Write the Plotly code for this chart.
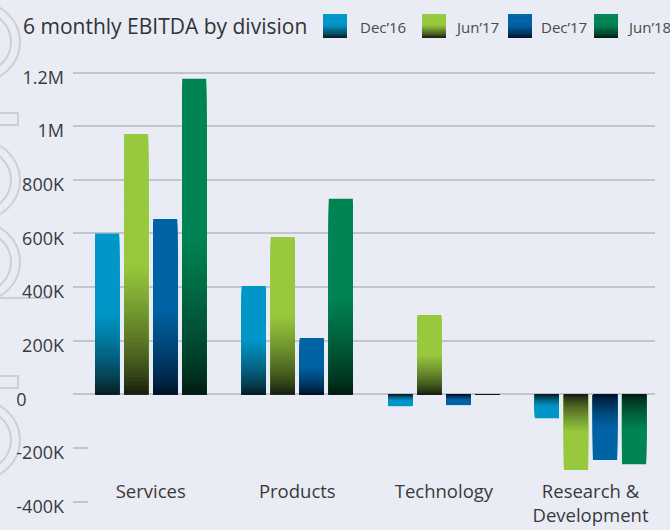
import plotly.graph_objects as go

# ---------------- data ----------------
categories = ["Services", "Products", "Technology", "Research &<br>Development"]
periods = ["Dec\u201916", "Jun\u201917", "Dec\u201917", "Jun\u201918"]
dec16 = [600000, 404000, -44000, -89000]
jun17 = [971000, 587000, 296000, -282000]
dec17 = [654000, 210000, -40000, -245000]
jun18 = [1177000, 729000, -2000, -260000]

pos_tick_vals = [0, 200000, 400000, 600000, 800000, 1000000, 1200000]
pos_tick_text = ["0" + "\u00a0" * 8, "200K", "400K", "600K", "800K", "1M", "1.2M"]
neg_tick_vals = [-200000, -400000]
neg_tick_text = ["-200K", "-400K"]

# ---------------- style ----------------
series = [dec16, jun17, dec17, jun18]
full_cols = [(0, 150, 200), (152, 200, 61), (0, 99, 165), (0, 132, 84)]
dark_cols = [(8, 22, 24), (16, 22, 12), (0, 14, 34), (0, 24, 14)]
BG = "#E9ECF5"
GRID = "#C3C5CC"
TXT = "#3A3A3A"
FONT = "Open Sans"

W, H = 670, 530
ML, MR, MT, MB = 73, 15, 50, 20
PW, PH = W - ML - MR, H - MT - MB
YR = [-431000, 1284000]


def px2x(px):
    return (px - ML) / PW


def py2y(py):
    return (H - MB - py) / PH


def grad(full, dark, f, thr=0.5, pw=0.7):
    if f >= thr:
        return "rgb(%d,%d,%d)" % full
    t = (max(f, 0) / thr) ** pw
    c = [round(dark[k] + (full[k] - dark[k]) * t) for k in range(3)]
    return "rgb(%d,%d,%d)" % tuple(c)


fig = go.Figure()
N = 60
for s, (vals, name) in enumerate(zip(series, periods)):
    for i in range(N):
        frac_top = (N - i) / N
        mid = frac_top - 0.5 / N
        fig.add_trace(go.Bar(
            x=categories,
            y=[v * frac_top for v in vals],
            name=name,
            offsetgroup=name,
            marker=dict(color=grad(full_cols[s], dark_cols[s], mid), line=dict(width=0)),
            showlegend=False,
            hoverinfo="skip" if i else "x+y+name",
            yaxis="y",
        ))

# invisible helper trace so the secondary (negative-tick) axis is drawn
fig.add_trace(go.Scatter(x=[categories[0]], y=[None], yaxis="y2", mode="markers",
                         showlegend=False, hoverinfo="skip"))

shapes = []
annotations = []

# custom gradient legend
legend_items = [(323, 358), (422, 453), (508, 539), (594, 625)]
SW, SY0, SY1 = 24, 14, 38
M = 20
for s, (sx, tx) in enumerate(legend_items):
    for j in range(M):
        y_top = SY0 + (SY1 - SY0) * j / M
        y_bot = SY0 + (SY1 - SY0) * (j + 1) / M + 0.6
        f = 1 - (j + 0.5) / M
        shapes.append(dict(type="rect", xref="paper", yref="paper",
                           x0=px2x(sx), x1=px2x(sx + SW),
                           y0=py2y(min(y_bot, SY1)), y1=py2y(y_top),
                           fillcolor=grad(full_cols[s], dark_cols[s], f, thr=0.55, pw=0.8),
                           line=dict(width=0), layer="above"))
    annotations.append(dict(text=periods[s], xref="paper", yref="paper",
                            x=px2x(tx), y=py2y(27), xanchor="left", yanchor="middle",
                            showarrow=False, font=dict(family=FONT, size=15, color="#4A4A4A")))

# title
annotations.append(dict(text="6 monthly EBITDA by division", xref="paper", yref="paper",
                        x=px2x(21), y=py2y(26), xanchor="left", yanchor="middle",
                        showarrow=False, font=dict(family=FONT, size=21, color="#333333")))

# decorative watermark outlines on the left edge
WM = "#CDCFD6"
for cy in [42, 180, 262, 440]:
    for rx, ry in [(42, 40), (33, 31)]:
        shapes.append(dict(type="circle", xref="paper", yref="paper", layer="below",
                           x0=px2x(-22 - rx), x1=px2x(-22 + rx),
                           y0=py2y(cy + ry), y1=py2y(cy - ry),
                           line=dict(color=WM, width=2)))
for by in [113, 376]:
    shapes.append(dict(type="rect", xref="paper", yref="paper", layer="below",
                       x0=px2x(-10), x1=px2x(18), y0=py2y(by + 12), y1=py2y(by),
                       line=dict(color=WM, width=2)))
shapes.append(dict(type="path", xref="paper", yref="paper", layer="below",
                   path="M %f %f L %f %f L %f %f" % (px2x(0), py2y(298), px2x(50), py2y(298),
                                                     px2x(50), py2y(290)),
                   line=dict(color=WM, width=2)))

fig.update_layout(
    width=W, height=H,
    margin=dict(l=ML, r=MR, t=MT, b=MB, autoexpand=False),
    paper_bgcolor=BG, plot_bgcolor=BG,
    barmode="group", bargap=0.208, bargroupgap=0.17,
    showlegend=False,
    shapes=shapes, annotations=annotations,
    font=dict(family=FONT, color=TXT),
    xaxis=dict(
        range=[-0.53, 3.44], anchor="free", position=0.068,
        showgrid=False, zeroline=False, showline=False, ticks="",
        automargin=False,
        tickfont=dict(family=FONT, size=18.5, color=TXT),
        fixedrange=True,
    ),
    yaxis=dict(
        range=YR,
        tickmode="array", tickvals=pos_tick_vals, ticktext=pos_tick_text,
        showgrid=True, gridcolor=GRID, gridwidth=2,
        zeroline=False, showline=False, ticks="",
        automargin=False,
        ticklabelstandoff=8, ticklabelshift=5,
        tickfont=dict(family=FONT, size=18, color=TXT),
    ),
    yaxis2=dict(
        overlaying="y", side="left", range=YR, anchor="x",
        tickmode="array", tickvals=neg_tick_vals, ticktext=neg_tick_text,
        showgrid=False, zeroline=False, showline=False,
        ticks="inside", ticklen=15, tickwidth=2, tickcolor=GRID,
        automargin=False,
        ticklabelstandoff=8, ticklabelshift=5,
        tickfont=dict(family=FONT, size=18, color=TXT),
    ),
)

fig.write_html(
    "out.html",
    config={"displayModeBar": False},
    post_script="document.body.style.margin='0';document.body.style.background='%s';" % BG,
)
